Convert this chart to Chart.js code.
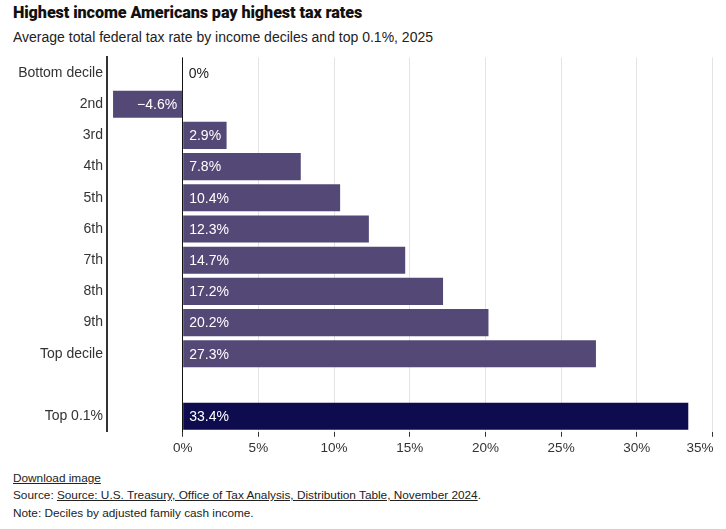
<!DOCTYPE html>
<html>
<head>
<meta charset="utf-8">
<script src="https://cdn.jsdelivr.net/npm/chart.js@4.4.1/dist/chart.umd.min.js"></script>
<style>
  html,body{margin:0;padding:0;background:#fff;width:726px;height:529px;overflow:hidden;font-family:"Liberation Sans",Arial,sans-serif;color:#222;}
  #title{position:absolute;left:13px;top:3px;font-family:Roboto,"Liberation Sans",sans-serif;font-weight:900;font-size:16.2px;color:#111;letter-spacing:-0.1px;}
  #sub{position:absolute;left:13px;top:29px;font-size:14px;color:#222;}
  #wrap{position:absolute;left:0;top:45px;width:726px;height:414px;}
  .foot{position:absolute;left:13px;font-size:11.8px;color:#222;}
  .u{text-decoration:underline;}
</style>
</head>
<body>
<div id="title">Highest income Americans pay highest tax rates</div>
<div id="sub">Average total federal tax rate by income deciles and top 0.1%, 2025</div>
<div id="wrap"><canvas id="c"></canvas></div>
<div class="foot u" style="top:471px;">Download image</div>
<div class="foot" style="top:488px;">Source: <span class="u">Source: U.S. Treasury, Office of Tax Analysis, Distribution Table, November 2024</span>.</div>
<div class="foot" style="top:506px;">Note: Deciles by adjusted family cash income.</div>
<script>
const categories = ["Bottom decile","2nd","3rd","4th","5th","6th","7th","8th","9th","Top decile","","Top 0.1%"];
const taxRates = [0, -4.6, 2.9, 7.8, 10.4, 12.3, 14.7, 17.2, 20.2, 27.3, null, 33.4];
const valueLabels = ["0%","\u22124.6%","2.9%","7.8%","10.4%","12.3%","14.7%","17.2%","20.2%","27.3%","","33.4%"];
const xTicks = [0,5,10,15,20,25,30,35];
const xMin = -5, xMax = 35;

const decileColor = '#544877';
const topColor = '#0e0b4f';
const barColors = categories.map(c => c === 'Top 0.1%' ? topColor : decileColor);

const FONT = '"Liberation Sans", Arial, sans-serif';
const TICK_PAD = 3, TICK_LEN = 5, TICK_SIZE = 13.5;

const labelPlugin = {
  id:'valueLabels',
  afterDatasetsDraw(chart){
    const ctx = chart.ctx;
    const meta = chart.getDatasetMeta(0);
    ctx.save();
    ctx.font = '14px ' + FONT;
    ctx.textBaseline = 'middle';
    meta.data.forEach((el,i)=>{
      const v = taxRates[i];
      if(v === null || v === undefined) return;
      const base = el.base;
      if(v < 0){
        ctx.fillStyle = '#fff';
        ctx.textAlign = 'right';
        ctx.fillText(valueLabels[i], base-5, el.y+1);
      } else {
        ctx.fillStyle = v === 0 ? '#222' : '#fff';
        ctx.textAlign = 'left';
        ctx.fillText(valueLabels[i], base+6, el.y+1);
      }
    });
    // last x tick label, right-aligned to its tick like the reference
    const xs = chart.scales.x;
    ctx.font = TICK_SIZE + 'px ' + FONT;
    ctx.fillStyle = '#333';
    ctx.textAlign = 'right';
    ctx.textBaseline = 'middle';
    ctx.fillText(xMax + '%', xs.getPixelForValue(xMax) + 1, xs.top + TICK_LEN + TICK_PAD + TICK_SIZE * 0.6);
    ctx.restore();
  }
};

new Chart(document.getElementById('c'), {
  type:'bar',
  data:{labels:categories, datasets:[{data:taxRates, backgroundColor:barColors, barPercentage:0.87, categoryPercentage:1}]},
  options:{
    indexAxis:'y',
    responsive:true, maintainAspectRatio:false, animation:false,
    layout:{padding:{top:2,right:13.5,left:0,bottom:0}},
    plugins:{legend:{display:false}, tooltip:{enabled:false}},
    scales:{
      x:{
        min:xMin, max:xMax,
        afterBuildTicks(scale){ scale.ticks = [xMin].concat(xTicks).map(v=>({value:v})); },
        ticks:{
          font:{size:TICK_SIZE, family:FONT}, color:'#333', padding:TICK_PAD,
          maxRotation:0, autoSkip:false,
          callback:(v)=> (v < 0 || v === xMax) ? '' : v + '%'
        },
        grid:{
          color:(c)=> c.tick && c.tick.value === 0 ? '#111' : (c.tick && c.tick.value < 0 ? 'rgba(0,0,0,0)' : '#e3e3e3'),
          tickColor:(c)=> c.tick && c.tick.value < 0 ? 'rgba(0,0,0,0)' : '#333',
          tickLength:TICK_LEN, lineWidth:1, drawTicks:true
        },
        border:{display:false}
      },
      y:{
        afterFit(scale){ scale.width = 107; },
        ticks:{font:{size:14, family:FONT}, color:'#333', padding:4, autoSkip:false},
        grid:{display:false, drawTicks:false},
        border:{display:true, color:'#333', width:2}
      }
    }
  },
  plugins:[labelPlugin]
});
</script>
</body>
</html>
